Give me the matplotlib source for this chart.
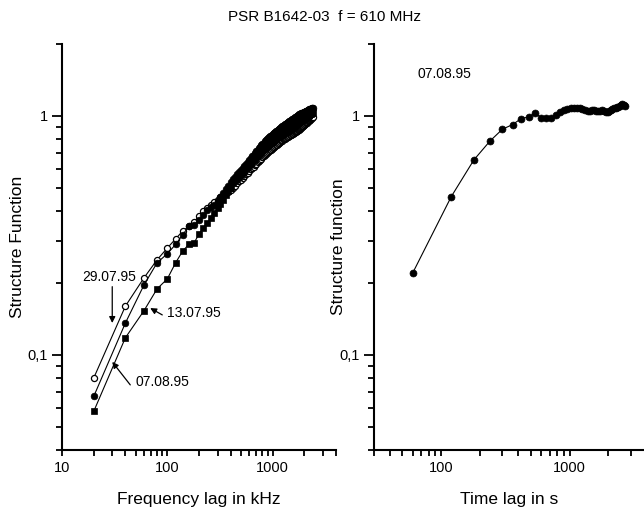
import numpy as np
import matplotlib
matplotlib.use("Agg")
import matplotlib.pyplot as plt
from matplotlib.ticker import FixedLocator, FixedFormatter, NullFormatter

plt.rcParams['font.family'] = ['Liberation Sans', 'DejaVu Sans']

# ---------------- data ----------------
freq_lag = np.arange(20, 2420, 20)  # kHz

sf_070895 = [0.067, 0.136, 0.196, 0.243, 0.265, 0.290, 0.318, 0.345, 0.350, 0.367,
             0.385, 0.404, 0.414, 0.425, 0.440, 0.458, 0.476, 0.494, 0.511, 0.527,
             0.543, 0.556, 0.569, 0.582, 0.594, 0.606, 0.618, 0.630, 0.642,
             0.654, 0.666, 0.677, 0.688, 0.700, 0.711, 0.722, 0.732, 0.743, 0.753, 0.764, 0.774, 0.784,
             0.795, 0.802, 0.808, 0.815, 0.821, 0.827, 0.833, 0.839, 0.845, 0.851,
             0.857, 0.863, 0.869, 0.874, 0.880, 0.885, 0.891, 0.896, 0.902, 0.907,
             0.911, 0.916, 0.920, 0.924, 0.928, 0.932, 0.937, 0.941, 0.945, 0.949, 0.952, 0.956, 0.960,
             0.964, 0.968, 0.972, 0.975, 0.979, 0.983, 0.986, 0.990, 0.993, 0.997, 1.000, 1.004, 1.007,
             1.011, 1.014, 1.016, 1.019, 1.021, 1.024, 1.026, 1.028, 1.031, 1.033, 1.035, 1.038,
             1.040, 1.042, 1.044, 1.046, 1.049, 1.051, 1.053, 1.055, 1.057, 1.059, 1.062,
             1.064, 1.066, 1.068, 1.070, 1.072, 1.074, 1.076, 1.078, 1.080]

sf_130795 = [0.058, 0.118, 0.153, 0.189, 0.208, 0.243, 0.272, 0.290, 0.295, 0.320,
             0.340, 0.357, 0.374, 0.393, 0.410, 0.428, 0.447, 0.466, 0.484, 0.500,
             0.522, 0.534, 0.546, 0.557, 0.568, 0.579, 0.589, 0.600, 0.611,
             0.621, 0.632, 0.641, 0.651, 0.662, 0.671, 0.681, 0.690, 0.700, 0.708, 0.718, 0.727, 0.736,
             0.745, 0.751, 0.757, 0.763, 0.769, 0.775, 0.781, 0.786, 0.792, 0.798,
             0.803, 0.809, 0.814, 0.819, 0.825, 0.830, 0.835, 0.840, 0.845, 0.850,
             0.854, 0.858, 0.862, 0.866, 0.869, 0.873, 0.877, 0.881, 0.884, 0.888, 0.891, 0.894, 0.898,
             0.901, 0.905, 0.908, 0.911, 0.915, 0.918, 0.921, 0.925, 0.927, 0.931, 0.934, 0.937, 0.940,
             0.944, 0.947, 0.950, 0.954, 0.957, 0.960, 0.963, 0.966, 0.969, 0.972, 0.975, 0.979,
             0.982, 0.984, 0.987, 0.990, 0.993, 0.996, 0.999, 1.002, 1.005, 1.007, 1.011,
             1.013, 1.016, 1.019, 1.022, 1.025, 1.027, 1.030, 1.033, 1.035]

sf_290795 = [0.080, 0.160, 0.210, 0.250, 0.280, 0.306, 0.330, 0.345, 0.360, 0.382,
             0.400, 0.412, 0.425, 0.435, 0.447, 0.457, 0.466, 0.474, 0.482, 0.490,
             0.501, 0.511, 0.522, 0.532, 0.541, 0.551, 0.560, 0.570, 0.579,
             0.588, 0.597, 0.605, 0.614, 0.623, 0.631, 0.639, 0.647, 0.656, 0.663, 0.671, 0.679, 0.687,
             0.694, 0.700, 0.705, 0.711, 0.717, 0.722, 0.728, 0.733, 0.738, 0.744,
             0.749, 0.754, 0.759, 0.764, 0.769, 0.774, 0.779, 0.783, 0.788, 0.792,
             0.797, 0.800, 0.803, 0.807, 0.810, 0.813, 0.817, 0.820, 0.823, 0.826, 0.829, 0.832, 0.835,
             0.838, 0.841, 0.844, 0.847, 0.850, 0.853, 0.856, 0.859, 0.861, 0.864, 0.867, 0.870, 0.873,
             0.876, 0.880, 0.884, 0.888, 0.892, 0.896, 0.900, 0.904, 0.907, 0.911, 0.915, 0.919,
             0.923, 0.926, 0.930, 0.934, 0.937, 0.941, 0.945, 0.948, 0.952, 0.955, 0.959,
             0.962, 0.966, 0.970, 0.973, 0.977, 0.980, 0.983, 0.987, 0.990]

time_lag = [60, 120, 180, 240, 300, 360, 420, 480, 540, 600,
            660, 720, 780, 840, 900, 960, 1020, 1080, 1140, 1200,
            1260, 1320, 1380, 1440, 1500, 1560, 1620, 1680, 1740, 1800,
            1860, 1920, 1980, 2040, 2100, 2160, 2220, 2280, 2340, 2400,
            2460, 2520, 2580, 2640, 2700]
sf_time = [0.22, 0.46, 0.655, 0.785, 0.88, 0.92, 0.975, 0.99, 1.03, 0.985,
           0.985, 0.98, 1.01, 1.04, 1.06, 1.07, 1.08, 1.08, 1.075, 1.08,
           1.07, 1.055, 1.05, 1.045, 1.055, 1.06, 1.05, 1.045, 1.05, 1.055,
           1.05, 1.035, 1.04, 1.045, 1.06, 1.065, 1.075, 1.08, 1.085, 1.09,
           1.10, 1.11, 1.12, 1.11, 1.10]

title = "PSR B1642-03  f = 610 MHz"
ylabel_left = "Structure Function"
ylabel_right = "Structure function"
xlabel_left = "Frequency lag in kHz"
xlabel_right = "Time lag in s"

# ---------------- figure ----------------
W, H = 644, 513
fig = plt.figure(figsize=(W / 100, H / 100), dpi=100)

def frac(x0, y0, x1, y1):
    return [x0 / W, 1 - y1 / H, (x1 - x0) / W, (y1 - y0) / H]

axL = fig.add_axes(frac(62, 44, 336, 450))
axR = fig.add_axes(frac(374, 44, 644, 450))

ymaj = [0.1, 1]
ymin = [0.04, 0.05, 0.06, 0.07, 0.08, 0.09, 0.2, 0.3, 0.4, 0.5, 0.6, 0.7, 0.8, 0.9, 2]

for ax in (axL, axR):
    ax.set_xscale('log')
    ax.set_yscale('log')
    ax.set_ylim(0.04, 2)
    for s in ('top', 'right'):
        ax.spines[s].set_visible(False)
    for s in ('left', 'bottom'):
        ax.spines[s].set_linewidth(1.5)
    ax.yaxis.set_major_locator(FixedLocator(ymaj))
    ax.yaxis.set_major_formatter(FixedFormatter(['0,1', '1']))
    ax.yaxis.set_minor_locator(FixedLocator(ymin))
    ax.yaxis.set_minor_formatter(NullFormatter())
    ax.tick_params(axis='y', which='major', direction='out', length=7, width=1.3, labelsize=10.5, pad=3)
    ax.tick_params(axis='y', which='minor', direction='out', length=4.5, width=1.3)
    ax.tick_params(axis='x', which='major', direction='out', length=4, width=1.3, labelsize=10.5, pad=4)
    ax.tick_params(axis='x', which='minor', direction='out', length=4, width=1.3)
    ax.set_facecolor('none')

# left panel
axL.set_xlim(10, 4000)
axL.xaxis.set_major_locator(FixedLocator([10, 100, 1000]))
axL.xaxis.set_major_formatter(FixedFormatter(['10', '100', '1000']))
axL.xaxis.set_minor_locator(FixedLocator([20, 30, 40, 50, 60, 70, 80, 90,
                                          200, 300, 400, 500, 600, 700, 800, 900,
                                          2000, 3000, 4000]))
axL.xaxis.set_minor_formatter(NullFormatter())

lw = 0.8
axL.plot(freq_lag, sf_290795, '-', color='black', lw=lw, marker='o', ms=4.4,
         mfc='white', mec='black', mew=0.9, zorder=2)
axL.plot(freq_lag, sf_130795, '-', color='black', lw=lw, marker='s', ms=4.4,
         mfc='black', mec='black', mew=0.5, zorder=3)
axL.plot(freq_lag, sf_070895, '-', color='black', lw=lw, marker='o', ms=4.8,
         mfc='black', mec='black', mew=0.5, zorder=4)

axL.set_xlabel(xlabel_left, fontsize=12.5, labelpad=12)
axL.set_ylabel(ylabel_left, fontsize=12.5)
axL.yaxis.set_label_coords((25 - 62) / 274, 0.5)

aprops = dict(arrowstyle='-|>', color='black', lw=0.9, mutation_scale=9,
              shrinkA=0, shrinkB=0)
axL.annotate('29.07.95', xy=(30, 0.136), xytext=(15.5, 0.212),
             fontsize=10, ha='left', va='center')
axL.annotate('', xy=(30, 0.136), xytext=(30, 0.193), arrowprops=aprops)
axL.annotate('13.07.95', xy=(100, 0.150), xytext=(100, 0.150),
             fontsize=10, ha='left', va='center')
axL.annotate('', xy=(68.8, 0.157), xytext=(89.6, 0.147), arrowprops=aprops)
axL.annotate('07.08.95', xy=(49.5, 0.077), xytext=(49.5, 0.077),
             fontsize=10, ha='left', va='center')
axL.annotate('', xy=(30, 0.0935), xytext=(44.5, 0.0749), arrowprops=aprops)

# right panel
axR.set_xlim(30, 3800)
axR.xaxis.set_major_locator(FixedLocator([100, 1000]))
axR.xaxis.set_major_formatter(FixedFormatter(['100', '1000']))
axR.xaxis.set_minor_locator(FixedLocator([30, 40, 50, 60, 70, 80, 90,
                                          200, 300, 400, 500, 600, 700, 800, 900,
                                          2000, 3000]))
axR.xaxis.set_minor_formatter(NullFormatter())
axR.plot(time_lag, sf_time, '-', color='black', lw=lw, marker='o', ms=5,
         mfc='black', mec='black', mew=0.5)
axR.text(65, 1.5, '07.08.95', fontsize=10, ha='left', va='center')
axR.set_xlabel(xlabel_right, fontsize=12.5, labelpad=12)
axR.set_ylabel(ylabel_right, fontsize=12.5)
axR.yaxis.set_label_coords((346 - 374) / 270, 0.5)

fig.text(325 / W, 1 - 17 / H, title, fontsize=11, ha='center', va='center')

fig.savefig('out.png', dpi=100)
